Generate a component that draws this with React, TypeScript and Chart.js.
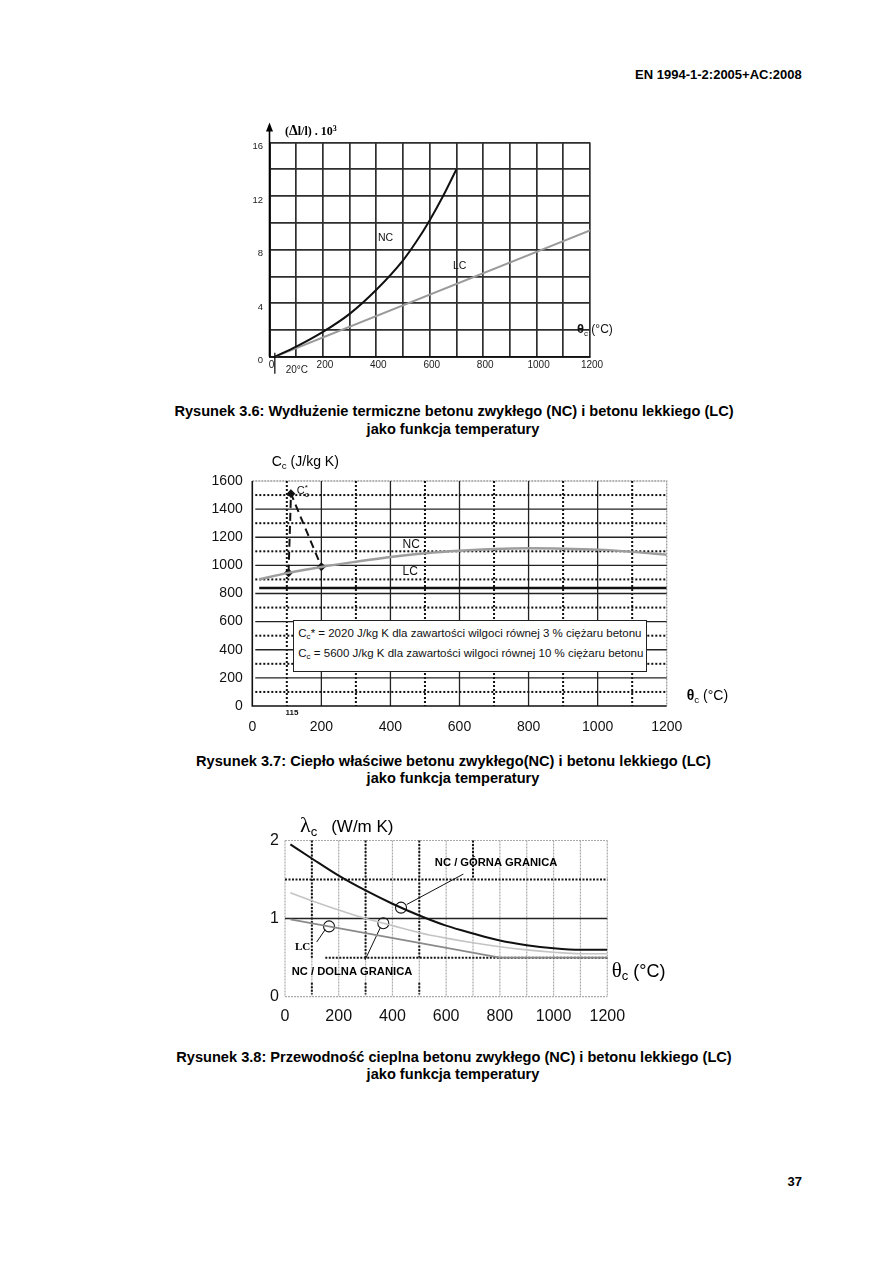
import React, { useEffect, useRef } from 'react';
import { Chart, registerables } from 'chart.js';

Chart.register(...registerables);
const LS = "'Liberation Sans', Arial, sans-serif";
const SERIF = "'Liberation Serif', 'Times New Roman', serif";
Chart.defaults.font.family = LS;

// ---------- Rysunek 3.6: thermal elongation ----------
const expTempNC = [20, 100, 200, 300, 400, 500, 550, 600, 650, 700];
const expStrainNC = [0, 0.75, 1.85, 3.2, 5.0, 7.2, 8.6, 10.2, 12.0, 14.0];
const expTempLC = [20, 1200];
const expStrainLC = [0, 9.44];
const expXLabels = [0, 200, 400, 600, 800, 1000, 1200];
const expYLabels = [0, 4, 8, 12, 16];

// ---------- Rysunek 3.7: specific heat ----------
const heatTempNC = [20, 100, 200, 300, 400, 500, 600, 700, 800, 900, 1000, 1100, 1200];
const heatNC = [901, 945, 989, 1026, 1060, 1086, 1104, 1116, 1121, 1119, 1112, 1096, 1075];
const heatTempLC = [20, 1200];
const heatLC = [840, 840];
const peakTemp = [105, 112, 200];
const peakHeat = [947, 1510, 990];
const heatXLabels = [0, 200, 400, 600, 800, 1000, 1200];
const heatYLabels = [0, 200, 400, 600, 800, 1000, 1200, 1400, 1600];

// ---------- Rysunek 3.8: thermal conductivity ----------
const condTemp = [20, 100, 200, 300, 400, 500, 600, 700, 800, 900, 1000, 1100, 1200];
const condUpper = [1.95, 1.77, 1.55, 1.36, 1.19, 1.04, 0.91, 0.81, 0.72, 0.66, 0.62, 0.6, 0.6];
const condLower = [1.33, 1.23, 1.11, 1.0, 0.91, 0.82, 0.75, 0.69, 0.64, 0.6, 0.57, 0.55, 0.55];
const condTempLC = [20, 800, 1200];
const condLC = [0.99, 0.5, 0.5];
const markTemp = [432, 366, 164];
const markCond = [1.14, 0.94, 0.9];
const condXLabels = [0, 200, 400, 600, 800, 1000, 1200];
const condYLabels = [0, 1, 2];
// leader lines (annotation anchors)
const leadUpperT = [453, 664];
const leadUpperV = [1.18, 1.57];
const leadLowerT = [355, 298];
const leadLowerV = [0.885, 0.47];
const leadLCT = [150, 118];
const leadLCV = [0.86, 0.7];

const zip = (xs: number[], ys: number[]) => xs.map((x, i) => ({ x, y: ys[i] }));

function ChartBox({ left, top, width, height, make }: any) {
  const ref = useRef<HTMLCanvasElement>(null);
  useEffect(() => {
    const chart = new Chart(ref.current as HTMLCanvasElement, make());
    return () => chart.destroy();
  }, []);
  return (
    <canvas
      ref={ref}
      width={width}
      height={height}
      style={{ position: 'absolute', left, top, width, height }}
    />
  );
}

function Txt({ x, y, align = 'left', size, bold = false, family = LS, children, color = '#000' }: any) {
  const tx = align === 'left' ? '0' : align === 'center' ? '-50%' : '-100%';
  return (
    <div
      style={{
        position: 'absolute',
        left: x,
        top: y,
        transform: `translate(${tx}, -50%)`,
        fontFamily: family,
        fontSize: size,
        fontWeight: bold ? 'bold' : 'normal',
        whiteSpace: 'nowrap',
        lineHeight: 1.15,
        color,
      }}
    >
      {children}
    </div>
  );
}

const Sub = ({ children, size = '0.7em' }: any) => (
  <span style={{ fontSize: size, verticalAlign: '-0.3em', lineHeight: 1 }}>{children}</span>
);

const baseOpts = (padding: any) => ({
  responsive: false,
  maintainAspectRatio: false,
  animation: false,
  layout: { padding },
  plugins: { legend: { display: false }, tooltip: { enabled: false } },
});

// ---------- chart 1 ----------
const fig36Deco = {
  id: 'fig36Deco',
  afterDraw(chart: any) {
    const { ctx, chartArea: a, scales } = chart;
    const x = scales.x, y = scales.y;
    ctx.save();
    const x0 = x.getPixelForValue(0);
    ctx.strokeStyle = '#000';
    ctx.lineWidth = 1.6;
    ctx.beginPath();
    ctx.moveTo(x0, a.bottom);
    ctx.lineTo(x0, a.top - 13);
    ctx.stroke();
    ctx.fillStyle = '#000';
    ctx.beginPath();
    ctx.moveTo(x0, a.top - 20);
    ctx.lineTo(x0 - 3.5, a.top - 11);
    ctx.lineTo(x0 + 3.5, a.top - 11);
    ctx.closePath();
    ctx.fill();
    const x20 = x.getPixelForValue(20);
    ctx.lineWidth = 1.2;
    ctx.beginPath();
    ctx.moveTo(x20, a.bottom - 4);
    ctx.lineTo(x20, a.bottom + 17);
    ctx.stroke();
    ctx.fillStyle = '#222';
    ctx.font = `10px ${LS}`;
    ctx.textAlign = 'center';
    ctx.textBaseline = 'middle';
    ctx.fillText('20°C', x20 + 22, a.bottom + 13.5);
    ctx.font = `10.5px ${LS}`;
    ctx.textAlign = 'left';
    ctx.fillStyle = '#111';
    ctx.fillText('NC', x.getPixelForValue(406), y.getPixelForValue(8.85));
    ctx.fillText('LC', x.getPixelForValue(687), y.getPixelForValue(6.8));
    ctx.restore();
  },
};

const makeFig36 = () => ({
  type: 'scatter',
  data: {
    datasets: [
      {
        data: zip(expTempNC, expStrainNC),
        showLine: true,
        borderColor: '#111',
        borderWidth: 2,
        pointRadius: 0,
        cubicInterpolationMode: 'monotone',
      },
      {
        data: zip(expTempLC, expStrainLC),
        showLine: true,
        borderColor: '#9a9a9a',
        borderWidth: 2,
        pointRadius: 0,
      },
    ],
  },
  options: {
    ...baseOpts({ left: 0, top: 32.5, right: 40, bottom: 0 }),
    scales: {
      x: {
        type: 'linear',
        min: 0,
        max: 1200,
        afterFit: (s: any) => { s.height = 33.3; },
        ticks: {
          stepSize: 100,
          autoSkip: false,
          maxRotation: 0,
          padding: 3,
          labelOffset: 2,
          color: '#222',
          font: { size: 10 },
          callback: (v: any) => (expXLabels.includes(v) ? String(v) : ''),
        },
        grid: { color: '#2e2e2e', lineWidth: 1.7, drawTicks: false },
        border: { display: true, color: '#111', width: 1.7 },
      },
      y: {
        type: 'linear',
        min: 0,
        max: 16,
        afterFit: (s: any) => { s.width = 39.5; },
        ticks: {
          stepSize: 2,
          autoSkip: false,
          padding: 6.5,
          labelOffset: 4,
          color: '#222',
          font: { size: 9.5 },
          callback: (v: any) => (expYLabels.includes(v) ? String(v) : ''),
        },
        grid: { color: '#2e2e2e', lineWidth: 1.7, drawTicks: false },
        border: { display: true, color: '#111', width: 1.7 },
      },
    },
  },
  plugins: [fig36Deco],
});

// ---------- chart 2 ----------
const fig37Grid = {
  id: 'fig37Grid',
  beforeDatasetsDraw(chart: any) {
    const { ctx, chartArea: a, scales } = chart;
    const x = scales.x, y = scales.y;
    ctx.save();
    ctx.strokeStyle = '#9a9a9a';
    ctx.lineWidth = 1.3;
    ctx.setLineDash([2, 1]);
    ctx.beginPath();
    ctx.moveTo(a.left, a.top);
    ctx.lineTo(a.right, a.top);
    ctx.lineTo(a.right, a.bottom);
    ctx.stroke();
    const line = (x1: number, y1: number, x2: number, y2: number, major: boolean) => {
      ctx.beginPath();
      if (major) {
        ctx.setLineDash([]);
        ctx.strokeStyle = '#222';
        ctx.lineWidth = 1.3;
      } else {
        ctx.setLineDash([2, 2]);
        ctx.strokeStyle = '#111';
        ctx.lineWidth = 2;
      }
      ctx.moveTo(x1, y1);
      ctx.lineTo(x2, y2);
      ctx.stroke();
    };
    x.ticks.forEach((t: any) => {
      const v = t.value;
      if (v <= x.min || v >= x.max) return;
      const px = x.getPixelForValue(v);
      line(px, a.top, px, a.bottom, v % 200 === 0);
    });
    y.ticks.forEach((t: any) => {
      const v = t.value;
      if (v <= y.min || v >= y.max) return;
      const py = y.getPixelForValue(v);
      line(a.left + 3, py, a.right, py, v % 200 === 0);
    });
    ctx.setLineDash([]);
    ctx.strokeStyle = '#111';
    ctx.lineWidth = 1.6;
    ctx.beginPath();
    ctx.moveTo(a.left, a.top);
    ctx.lineTo(a.left, a.bottom);
    ctx.lineTo(a.right, a.bottom);
    ctx.stroke();
    ctx.restore();
  },
  afterDraw(chart: any) {
    const { ctx, chartArea: a, scales } = chart;
    const x = scales.x, y = scales.y;
    ctx.save();
    ctx.fillStyle = '#111';
    ctx.textBaseline = 'middle';
    ctx.textAlign = 'center';
    ctx.font = `bold 8px ${LS}`;
    ctx.fillText('115', x.getPixelForValue(115), a.bottom + 6.5);
    ctx.textAlign = 'left';
    ctx.font = `12px ${LS}`;
    ctx.fillText('NC', x.getPixelForValue(435), y.getPixelForValue(1145));
    ctx.fillText('LC', x.getPixelForValue(435), y.getPixelForValue(955));
    const cx = x.getPixelForValue(129), cy = y.getPixelForValue(1529);
    ctx.font = `11px ${LS}`;
    ctx.fillText('C', cx, cy);
    const w = ctx.measureText('C').width;
    ctx.font = `8px ${LS}`;
    ctx.fillText('*', cx + w, cy - 3);
    ctx.fillText('c', cx + w, cy + 4);
    ctx.restore();
  },
};

const makeFig37 = () => ({
  type: 'scatter',
  data: {
    datasets: [
      {
        data: zip(heatTempNC, heatNC),
        showLine: true,
        borderColor: '#9d9d9d',
        borderWidth: 2.5,
        pointRadius: 0,
        cubicInterpolationMode: 'monotone',
      },
      {
        data: zip(heatTempLC, heatLC),
        showLine: true,
        borderColor: '#111',
        borderWidth: 2.5,
        pointRadius: 0,
      },
      {
        data: zip(peakTemp, peakHeat),
        showLine: true,
        borderColor: '#111',
        borderWidth: 2,
        borderDash: [8, 5],
        pointRadius: 3,
        pointStyle: 'rectRot',
        pointBackgroundColor: '#111',
        pointBorderColor: '#111',
      },
    ],
  },
  options: {
    ...baseOpts({ left: 0, top: 26, right: 33.3, bottom: 0 }),
    scales: {
      x: {
        type: 'linear',
        min: 0,
        max: 1200,
        afterFit: (s: any) => { s.height = 34; },
        ticks: {
          stepSize: 100,
          autoSkip: false,
          maxRotation: 0,
          padding: 12.3,
          color: '#111',
          font: { size: 14 },
          callback: (v: any) => (heatXLabels.includes(v) ? String(v) : ''),
        },
        grid: { display: false, drawTicks: false },
        border: { display: false },
      },
      y: {
        type: 'linear',
        min: 0,
        max: 1600,
        afterFit: (s: any) => { s.width = 52.3; },
        ticks: {
          stepSize: 100,
          autoSkip: false,
          padding: 9.6,
          color: '#111',
          font: { size: 14 },
          callback: (v: any) => (heatYLabels.includes(v) ? String(v) : ''),
        },
        grid: { display: false, drawTicks: false },
        border: { display: false },
      },
    },
  },
  plugins: [fig37Grid],
});

// ---------- chart 3 ----------
const fig38Deco = {
  id: 'fig38Deco',
  beforeDatasetsDraw(chart: any) {
    const { ctx, chartArea: a, scales } = chart;
    const x = scales.x, y = scales.y;
    const X = (v: number) => x.getPixelForValue(v);
    const Y = (v: number) => y.getPixelForValue(v);
    ctx.save();
    const seg = (x1: number, y1: number, x2: number, y2: number) => {
      ctx.beginPath();
      ctx.moveTo(x1, y1);
      ctx.lineTo(x2, y2);
      ctx.stroke();
    };
    // light grid
    ctx.strokeStyle = '#aaaaaa';
    ctx.lineWidth = 1.2;
    ctx.setLineDash([2, 1]);
    x.ticks.forEach((t: any) => {
      const px = X(t.value);
      seg(px, a.top, px, a.bottom);
    });
    seg(a.left, a.top, a.right, a.top);
    seg(a.left, a.bottom, a.right, a.bottom);
    // dark dotted lines
    ctx.strokeStyle = '#151515';
    ctx.lineWidth = 2;
    ctx.setLineDash([2, 1.5]);
    seg(a.left, Y(1.5), a.right, Y(1.5));
    seg(X(150), Y(0.5), a.right, Y(0.5));
    [100, 300, 500].forEach((v) => {
      seg(X(v), Y(2), X(v), Y(0.5));
      seg(X(v), Y(0.18), X(v), Y(0.03));
    });
    seg(X(700), Y(2), X(700), Y(1.5));
    // dark solid at 1
    ctx.setLineDash([]);
    ctx.strokeStyle = '#222';
    ctx.lineWidth = 1.5;
    seg(a.left, Y(1), a.right, Y(1));
    ctx.restore();
  },
  afterDraw(chart: any) {
    const { ctx, scales } = chart;
    const x = scales.x, y = scales.y;
    ctx.save();
    ctx.fillStyle = '#000';
    ctx.textBaseline = 'middle';
    ctx.textAlign = 'left';
    ctx.font = `bold 11.2px ${LS}`;
    ctx.fillText('NC / GÓRNA GRANICA', x.getPixelForValue(558), y.getPixelForValue(1.712));
    ctx.fillText('NC / DOLNA GRANICA', x.getPixelForValue(25), y.getPixelForValue(0.32));
    ctx.font = `bold 11px ${SERIF}`;
    ctx.fillText('LC', x.getPixelForValue(37), y.getPixelForValue(0.64));
    ctx.restore();
  },
};

const leader = (xs: number[], ys: number[]) => ({
  data: zip(xs, ys),
  showLine: true,
  borderColor: '#111',
  borderWidth: 1,
  pointRadius: 0,
});

const makeFig38 = () => ({
  type: 'scatter',
  data: {
    datasets: [
      {
        data: zip(condTemp, condLower),
        showLine: true,
        borderColor: '#c4c4c4',
        borderWidth: 1.6,
        pointRadius: 0,
        cubicInterpolationMode: 'monotone',
      },
      {
        data: zip(condTempLC, condLC),
        showLine: true,
        borderColor: '#8a8a8a',
        borderWidth: 1.6,
        pointRadius: 0,
      },
      {
        data: zip(condTemp, condUpper),
        showLine: true,
        borderColor: '#111',
        borderWidth: 2,
        pointRadius: 0,
        cubicInterpolationMode: 'monotone',
      },
      {
        data: zip(markTemp, markCond),
        showLine: false,
        pointRadius: 5.5,
        pointBorderWidth: 1.1,
        pointBorderColor: '#111',
        pointBackgroundColor: 'rgba(0,0,0,0)',
      },
      leader(leadUpperT, leadUpperV),
      leader(leadLowerT, leadLowerV),
      leader(leadLCT, leadLCV),
    ],
  },
  options: {
    ...baseOpts({ left: 0, top: 25.5, right: 32.7, bottom: 0 }),
    scales: {
      x: {
        type: 'linear',
        min: 0,
        max: 1200,
        afterFit: (s: any) => { s.height = 38.3; },
        ticks: {
          stepSize: 100,
          autoSkip: false,
          maxRotation: 0,
          padding: 10.4,
          color: '#111',
          font: { size: 16 },
          callback: (v: any) => (condXLabels.includes(v) ? String(v) : ''),
        },
        grid: { display: false, drawTicks: false },
        border: { display: false },
      },
      y: {
        type: 'linear',
        min: 0,
        max: 2,
        afterFit: (s: any) => { s.width = 45; },
        ticks: {
          stepSize: 0.5,
          autoSkip: false,
          padding: 6,
          color: '#111',
          font: { size: 16 },
          callback: (v: any) => (condYLabels.includes(v) ? String(v) : ''),
        },
        grid: { display: false, drawTicks: false },
        border: { display: false },
      },
    },
  },
  plugins: [fig38Deco],
});

const CAP = 14.6;

export default function App() {
  return (
    <div
      style={{
        position: 'absolute',
        left: 0,
        top: 0,
        width: 893,
        height: 1263,
        background: '#fff',
        overflow: 'hidden',
        fontFamily: LS,
      }}
    >
      <Txt x={801.7} y={75} align="right" size={13} bold>
        EN 1994-1-2:2005+AC:2008
      </Txt>

      {/* Figure 3.6 */}
      <ChartBox left={230} top={110} width={400} height={280} make={makeFig36} />
      <Txt x={285} y={131} size={12} bold family={SERIF}>
        (<span style={{ fontSize: 14 }}>Δ</span>l/l) . 10<sup style={{ fontSize: 8, verticalAlign: '0.5em', lineHeight: 1 }}>3</sup>
      </Txt>
      <Txt x={577} y={330} size={12} color="#111">
        <b style={{ fontSize: 13 }}>θ</b>
        <Sub size={8}>c</Sub> (°C)
      </Txt>
      <Txt x={454} y={411} align="center" size={CAP} bold>
        Rysunek 3.6: Wydłużenie termiczne betonu zwykłego (NC) i betonu lekkiego (LC)
      </Txt>
      <Txt x={453} y={429} align="center" size={CAP} bold>
        jako funkcja temperatury
      </Txt>

      {/* Figure 3.7 */}
      <ChartBox left={200} top={455} width={500} height={285} make={makeFig37} />
      <Txt x={271.7} y={461.7} size={14}>
        C<Sub>c</Sub> (J/kg K)
      </Txt>
      <Txt x={686.7} y={696} size={14}>
        <b>θ</b>
        <Sub>c</Sub> (°C)
      </Txt>
      <div
        style={{
          position: 'absolute',
          left: 293.3,
          top: 620,
          width: 353.4,
          height: 51.7,
          boxSizing: 'border-box',
          border: '1.3px solid #222',
          background: '#fff',
          fontSize: 11.5,
          color: '#111',
        }}
      >
        <div style={{ position: 'absolute', left: 4, top: 6, whiteSpace: 'nowrap', lineHeight: 1.15 }}>
          C<Sub>c</Sub>* = 2020 J/kg K dla zawartości wilgoci równej 3 % ciężaru betonu
        </div>
        <div style={{ position: 'absolute', left: 4, top: 26, whiteSpace: 'nowrap', lineHeight: 1.15 }}>
          C<Sub>c</Sub> = 5600 J/kg K dla zawartości wilgoci równej 10 % ciężaru betonu
        </div>
      </div>
      <Txt x={453.5} y={761} align="center" size={CAP} bold>
        Rysunek 3.7: Ciepło właściwe betonu zwykłego(NC) i betonu lekkiego (LC)
      </Txt>
      <Txt x={453} y={778} align="center" size={CAP} bold>
        jako funkcja temperatury
      </Txt>

      {/* Figure 3.8 */}
      <ChartBox left={240} top={815} width={400} height={220} make={makeFig38} />
      <Txt x={300} y={825} size={17}>
        <span style={{ fontFamily: SERIF, fontSize: 22 }}>λ</span>
        <Sub size={13}>c</Sub>
        <span style={{ marginLeft: 14 }}>(W/m K)</span>
      </Txt>
      <Txt x={611.7} y={970} size={18}>
        <span style={{ fontFamily: SERIF, fontSize: 21 }}>θ</span>
        <Sub size={13}>c</Sub> (°C)
      </Txt>
      <Txt x={454} y={1057} align="center" size={CAP} bold>
        Rysunek 3.8: Przewodność cieplna betonu zwykłego (NC) i betonu lekkiego (LC)
      </Txt>
      <Txt x={453} y={1074} align="center" size={CAP} bold>
        jako funkcja temperatury
      </Txt>

      <Txt x={802} y={1182} align="right" size={13} bold>
        37
      </Txt>
    </div>
  );
}
